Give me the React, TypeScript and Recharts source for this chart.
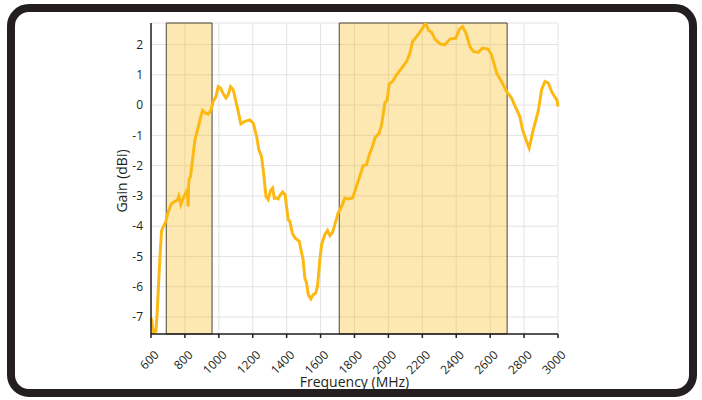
import React from 'react';
import { LineChart, Line, XAxis, YAxis, CartesianGrid, ReferenceArea, Label } from 'recharts';

const freqs = [600, 604, 610, 617, 629, 636, 643, 652, 662, 672, 688, 702, 721, 741, 755, 764, 770, 776, 790, 810, 815, 819, 822, 825, 833, 846, 859, 879, 893, 904, 920, 937, 953, 967, 983, 996, 1010, 1026, 1042, 1055, 1069, 1085, 1108, 1130, 1154, 1183, 1203, 1223, 1236, 1252, 1266, 1278, 1291, 1305, 1317, 1327, 1341, 1350, 1360, 1376, 1391, 1409, 1419, 1433, 1449, 1474, 1488, 1497, 1507, 1517, 1527, 1543, 1557, 1571, 1582, 1596, 1606, 1625, 1641, 1655, 1671, 1684, 1704, 1724, 1743, 1763, 1789, 1808, 1828, 1851, 1871, 1887, 1906, 1920, 1946, 1960, 1979, 1993, 2005, 2025, 2048, 2078, 2107, 2127, 2143, 2166, 2196, 2219, 2237, 2255, 2274, 2304, 2333, 2363, 2398, 2417, 2437, 2457, 2481, 2500, 2530, 2555, 2588, 2608, 2638, 2667, 2697, 2726, 2752, 2775, 2791, 2815, 2830, 2854, 2883, 2903, 2923, 2942, 2962, 2982, 2995, 3000];
const gains = [-7.03, -7.1, -7.35, -7.55, -7.47, -6.9, -6.1, -5.1, -4.17, -4.02, -3.84, -3.51, -3.26, -3.18, -3.15, -3.0, -3.12, -3.29, -3.07, -2.85, -3.0, -3.35, -2.6, -2.45, -2.36, -1.75, -1.15, -0.71, -0.4, -0.18, -0.26, -0.3, -0.18, 0.12, 0.28, 0.61, 0.56, 0.37, 0.23, 0.34, 0.61, 0.5, -0.05, -0.62, -0.54, -0.49, -0.6, -1.04, -1.48, -1.7, -2.36, -3.02, -3.12, -2.82, -2.74, -3.08, -3.07, -3.1, -2.99, -2.87, -2.96, -3.79, -3.84, -4.22, -4.39, -4.5, -4.88, -5.1, -5.71, -5.87, -6.26, -6.4, -6.26, -6.21, -5.99, -5.1, -4.61, -4.28, -4.14, -4.31, -4.2, -3.95, -3.56, -3.35, -3.07, -3.1, -3.07, -2.74, -2.41, -2.0, -1.97, -1.64, -1.37, -1.09, -0.92, -0.65, 0.07, 0.17, 0.7, 0.78, 1.0, 1.22, 1.44, 1.72, 2.1, 2.26, 2.49, 2.71, 2.46, 2.4, 2.18, 2.02, 1.99, 2.18, 2.21, 2.49, 2.59, 2.38, 1.93, 1.77, 1.74, 1.88, 1.85, 1.66, 1.06, 0.78, 0.45, 0.23, -0.1, -0.38, -0.82, -1.2, -1.42, -0.82, -0.21, 0.5, 0.78, 0.73, 0.45, 0.26, 0.15, -0.05];

const xTicks = [600, 800, 1000, 1200, 1400, 1600, 1800, 2000, 2200, 2400, 2600, 2800, 3000];
const yTicks = [-7, -6, -5, -4, -3, -2, -1, 0, 1, 2];
const xDomain = [600, 3000];
const yDomain = [-7.56, 2.71];
const bands = [
  { from: 690, to: 960 },
  { from: 1710, to: 2700 },
];
const xTitle = 'Frequency (MHz)';
const yTitle = 'Gain (dBi)';

const data = freqs.map((f, i) => ({ f, g: gains[i] }));

const FONT = '"Open Sans", "Noto Sans", sans-serif';
const TEXT = '#231f20';

const XTick = (props: any) => {
  const { x, y, payload } = props;
  const ax = x + 3;
  const ay = y + 10;
  return (
    <text
      x={ax}
      y={ay}
      dy={8}
      textAnchor="end"
      fontSize={12}
      fontFamily={FONT}
      fill={TEXT}
      transform={`rotate(-45, ${ax}, ${ay})`}
    >
      {payload.value}
    </text>
  );
};

export default function App() {
  return (
    <div style={{ position: 'absolute', left: 0, top: 0, width: 702, height: 400, background: '#fff' }}>
      <div
        style={{
          position: 'absolute',
          left: 7,
          top: 4,
          width: 690,
          height: 393,
          border: '8px solid #231f20',
          borderRadius: 22,
          boxSizing: 'border-box',
        }}
      />
      <div style={{ position: 'absolute', left: 0, top: 0 }}>
        <LineChart width={702} height={400} data={data} margin={{ top: 23, right: 144, bottom: 0, left: 0 }}>
          <CartesianGrid stroke="#e3e3e3" strokeWidth={1} />
          {bands.map((b, i) => (
            <ReferenceArea
              key={i}
              x1={b.from}
              x2={b.to}
              fill="#FDB913"
              fillOpacity={0.33}
              stroke="#4a4538"
              strokeWidth={1}
              strokeOpacity={1}
            />
          ))}
          <XAxis
            dataKey="f"
            type="number"
            domain={xDomain}
            ticks={xTicks}
            height={66}
            stroke={TEXT}
            strokeWidth={1.5}
            tickSize={4}
            tick={<XTick />}
            interval={0}
          >
            <Label
              content={(p: any) => {
                const vb = p.viewBox || {};
                return (
                  <text x={vb.x + vb.width / 2} y={387} textAnchor="middle" fontSize={14} fontFamily={FONT} fill={TEXT}>
                    {xTitle}
                  </text>
                );
              }}
            />
          </XAxis>
          <YAxis
            type="number"
            domain={yDomain}
            ticks={yTicks}
            width={151}
            stroke={TEXT}
            strokeWidth={1.5}
            tickLine={false}
            tickSize={6}
            tickMargin={2}
            allowDataOverflow
            tick={{ fontSize: 12, fontFamily: FONT, fill: TEXT }}
          >
            <Label
              content={(p: any) => {
                const cx = 127;
                const cy = 181;
                return (
                  <text x={cx} y={cy} textAnchor="middle" fontSize={14} fontFamily={FONT} fill={TEXT} transform={`rotate(-90, ${cx}, ${cy})`}>
                    {yTitle}
                  </text>
                );
              }}
            />
          </YAxis>
          <Line type="linear" dataKey="g" stroke="#FDB913" strokeWidth={3} dot={false} isAnimationActive={false} />
        </LineChart>
      </div>
    </div>
  );
}
